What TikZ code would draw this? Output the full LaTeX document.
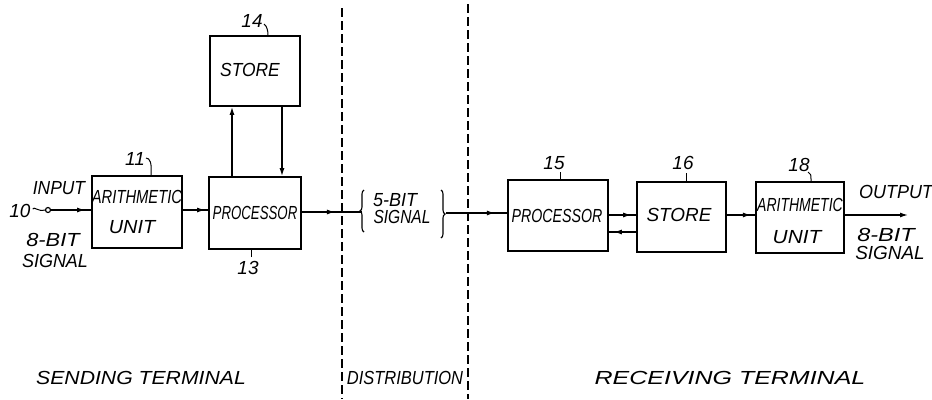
\documentclass[tikz,border=0pt]{standalone}
\usepackage{fontspec}
\usepackage{graphicx}
\setmainfont{Liberation Sans}
\usetikzlibrary{arrows.meta,decorations.markings,decorations.pathreplacing}
\newcommand\sxx[2]{\scalebox{#1}[1]{#2}}
\begin{document}
\begin{tikzpicture}[x=1bp,y=-1bp,
  every node/.style={font=\fontsize{19}{21}\selectfont\itshape, inner sep=0pt},
  blk/.style={draw, line width=1.8bp},
  con/.style={line width=1.3bp},
  tip/.style={-{Latex[length=8bp,width=5bp]}},
  midtip/.style={postaction={decorate}, decoration={markings, mark=at position #1 with {\arrow{Latex[length=8bp,width=5bp]}}}},
  sep/.style={line width=1.4bp, dash pattern=on 9bp off 4bp},
  tick/.style={line width=1bp}]
\useasboundingbox (0,0) rectangle (932,399);
\fill[white] (0,0) rectangle (932,399);

% boxes
\node[blk, minimum width=90bp, minimum height=72bp] (a11) at (137,212) {};
\node[blk, minimum width=92bp, minimum height=72bp] (p13) at (255,213) {};
\node[blk, minimum width=90bp, minimum height=70bp] (s14) at (255,71) {};
\node[blk, minimum width=100bp, minimum height=71bp] (p15) at (558,215.5) {};
\node[blk, minimum width=89bp, minimum height=70bp] (s16) at (681.5,217) {};
\node[blk, minimum width=88bp, minimum height=71bp] (a18) at (800,217.5) {};

% box texts
\node (t11a) at (137,197) {\sxx{0.78}{ARITHMETIC}};
\node (t11b) at (132,227) {\sxx{1.05}{UNIT}};
\node (t13) at (255,213) {\sxx{0.70}{PROCESSOR}};
\node (t14) at (250,70) {\sxx{0.92}{STORE}};
\node (t15) at (557,216) {\sxx{0.75}{PROCESSOR}};
\node (t16) at (679,215) {STORE};
\node (t18a) at (800,205) {\sxx{0.74}{ARITHMETIC}};
\node (t18b) at (797,237) {\sxx{1.1}{UNIT}};

% reference numbers
\node (n11) at (135,159) {11};
\node (n13) at (248,268) {13};
\node (n14) at (252,21) {14};
\node (n15) at (554,163) {15};
\node (n16) at (683,163) {16};
\node (n18) at (799,165) {18};
\draw[tick] (146,158) .. controls (150,158) and (152,163) .. (a11.north -| 151,0);
\draw[tick] (251,257) -- (p13.south -| 251,0);
\draw[tick] (264,24) .. controls (267,26) and (268,31) .. (s14.north -| 268,0);
\draw[tick] (560,172) -- (p15.north -| 560,0);
\draw[tick] (686,173) -- (s16.north -| 686,0);
\draw[tick] (808,172) .. controls (811,174) .. (a18.north -| 811,0);

% input side
\node (n10) at (20,211) {10};
\node[circle, draw, line width=1.2bp, minimum size=5bp] (in) at (48,210) {};
\draw[tick] (n10.east) ++(2,-2) .. controls (34,206) and (38,212) .. (in.west);
\node (lin) at (59,188) {\sxx{0.92}{INPUT}};
\node (lb1) at (53,240) {\sxx{1.15}{8-BIT}};
\node (lb2) at (55,261) {\sxx{0.95}{SIGNAL}};
\draw[con, midtip=0.85] (in.east) -- (in.east -| a11.west);

% sending connections
\draw[con, midtip=0.88] (a11.east |- 0,210) -- (p13.west |- 0,210);
\draw[con, tip] (p13.north -| 232,0) -- (s14.south -| 232,0);
\draw[con, tip] (s14.south -| 282,0) -- (p13.north -| 282,0);

% distribution
\coordinate (bl) at (362,212);
\draw[con, midtip=0.55] (p13.east |- 0,212) -- (bl);
\draw[line width=1.1bp, decorate, decoration={brace, amplitude=4bp}] (364,232) -- (364,190);
\draw[line width=1.1bp, decorate, decoration={brace, amplitude=4bp}] (441,190) -- (441,238);
\node (d1) at (395,200) {\sxx{0.95}{5-BIT}};
\node (d2) at (402,217) {\sxx{0.82}{SIGNAL}};
\coordinate (br) at (446,213);
\draw[con, midtip=0.8] (br) -- (p15.west |- br);

\draw[sep] (342,8) -- (342,399);
\draw[sep] (468,4) -- (468,399);

% receiving connections
\draw[con, midtip=0.82] (p15.east |- 0,215) -- (s16.west |- 0,215);
\draw[con, midtip=0.82] (s16.west |- 0,232) -- (p15.east |- 0,232);
\draw[con, midtip=0.85] (s16.east |- 0,215) -- (a18.west |- 0,215);
\coordinate (out) at (908,215);
\draw[con, tip] (a18.east |- out) -- (out);
\node (lout) at (896,192) {\sxx{0.95}{OUTPUT}};
\node (lo1) at (886,235) {\sxx{1.24}{8-BIT}};
\node (lo2) at (890,253) {SIGNAL};

% region labels
\node (st) at (141,378) {\sxx{1.12}{SENDING TERMINAL}};
\node (dt) at (405,378) {\sxx{0.87}{DISTRIBUTION}};
\node (rt) at (730,378) {\sxx{1.32}{RECEIVING TERMINAL}};
\end{tikzpicture}
\end{document}
